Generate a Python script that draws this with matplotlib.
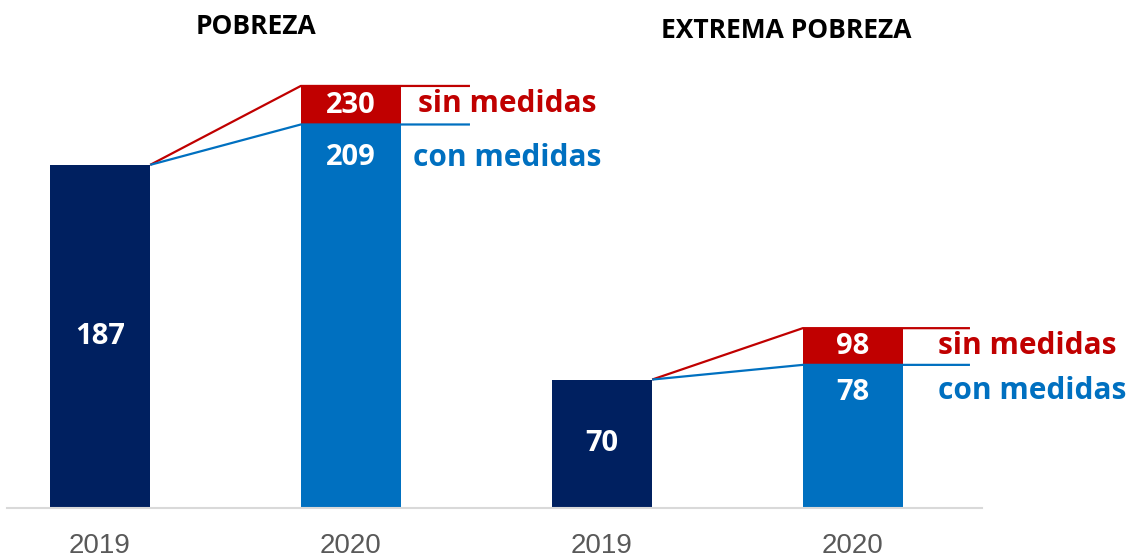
import matplotlib
matplotlib.use("Agg")
import matplotlib.pyplot as plt
from matplotlib import font_manager

# ---- data ----
categories = ["2019", "2020", "2019", "2020"]
groups = ["POBREZA", "EXTREMA POBREZA"]
base_2019 = [187, 70]          # 2019 values
con_medidas = [209, 78]        # 2020 with measures
sin_medidas = [230, 98]        # 2020 without measures
label_sin = "sin medidas"
label_con = "con medidas"

NAVY = "#002060"
BLUE = "#0070C0"
RED = "#C00000"
GRAY_TXT = "#595959"

names = {f.name for f in font_manager.fontManager.ttflist}
narrow = "Liberation Sans Narrow" if "Liberation Sans Narrow" in names else "Liberation Sans"
MAIN = "Open Sans"

fig = plt.figure(figsize=(11.29, 5.59), dpi=100)
ax = fig.add_axes([7 / 1129, 51 / 559, (982 - 7) / 1129, 508 / 559])
ax.set_xlim(-0.3705, 3.514)
ax.set_ylim(0, 508 / 1.835)

w = 0.4
x = list(range(len(categories)))
VFS = 21
LFS = 21.5
off_val = [-24, -20]
off_lab = [-24, -19]
title_dx = [0.12, 0.233]
title_y = [(508 - 27) / 508, (508 - 30.5) / 508]

for g in range(2):
    x19 = x[2 * g]
    x20 = x[2 * g + 1]
    ax.bar(x19, base_2019[g], width=w, color=NAVY, zorder=2)
    ax.bar(x20, con_medidas[g], width=w, color=BLUE, zorder=2)
    ax.bar(x20, sin_medidas[g] - con_medidas[g], bottom=con_medidas[g], width=w, color=RED, zorder=2)

    xend = x20 + (0.474 if g == 0 else 0.466)
    ax.plot([x19 + w / 2, x20 - w / 2, xend], [base_2019[g], sin_medidas[g], sin_medidas[g]],
            color=RED, lw=1.6, zorder=3, solid_capstyle="butt")
    ax.plot([x19 + w / 2, x20 - w / 2, xend], [base_2019[g], con_medidas[g], con_medidas[g]],
            color=BLUE, lw=1.6, zorder=3, solid_capstyle="butt")

    # value labels
    ax.text(x19, base_2019[g] / 2, str(base_2019[g]), color="white", ha="center", va="center",
            fontsize=VFS, fontweight="bold", family=MAIN, zorder=4)
    ax.text(x20, (con_medidas[g] + sin_medidas[g]) / 2, str(sin_medidas[g]), color="white",
            ha="center", va="center", fontsize=VFS, fontweight="bold", family=MAIN, zorder=4)
    ax.annotate(str(con_medidas[g]), (x20, con_medidas[g]), xytext=(0, off_val[g]), textcoords="offset points",
                color="white", ha="center", va="center", fontsize=VFS, fontweight="bold", family=MAIN, zorder=4)

    # side labels
    lx_sin = x20 + (0.267 if g == 0 else 0.339)
    lx_con = x20 + (0.247 if g == 0 else 0.339)
    ax.text(lx_sin, (con_medidas[g] + sin_medidas[g]) / 2 + 0.5, label_sin, color=RED, ha="left",
            va="center", fontsize=LFS, fontweight="bold", family=MAIN)
    ax.annotate(label_con, (lx_con, con_medidas[g]), xytext=(0, off_lab[g]), textcoords="offset points",
                color=BLUE, ha="left", va="center", fontsize=LFS, fontweight="bold", family=MAIN)

    # group title
    ax.text((x19 + x20) / 2 + title_dx[g], title_y[g],
            groups[g], transform=ax.get_xaxis_transform(), ha="center",
            va="center", fontsize=19, fontweight="bold", family=MAIN, color="black")

for s in ["top", "right", "left"]:
    ax.spines[s].set_visible(False)
ax.spines["bottom"].set_color("#d9d9d9")
ax.spines["bottom"].set_linewidth(1.5)
ax.set_yticks([])
ax.set_xticks(x)
ax.set_xticklabels(categories, fontsize=20, color=GRAY_TXT, family=[narrow, "DejaVu Sans"])
ax.tick_params(axis="x", length=0, pad=18)

fig.savefig("out.png", dpi=100)
